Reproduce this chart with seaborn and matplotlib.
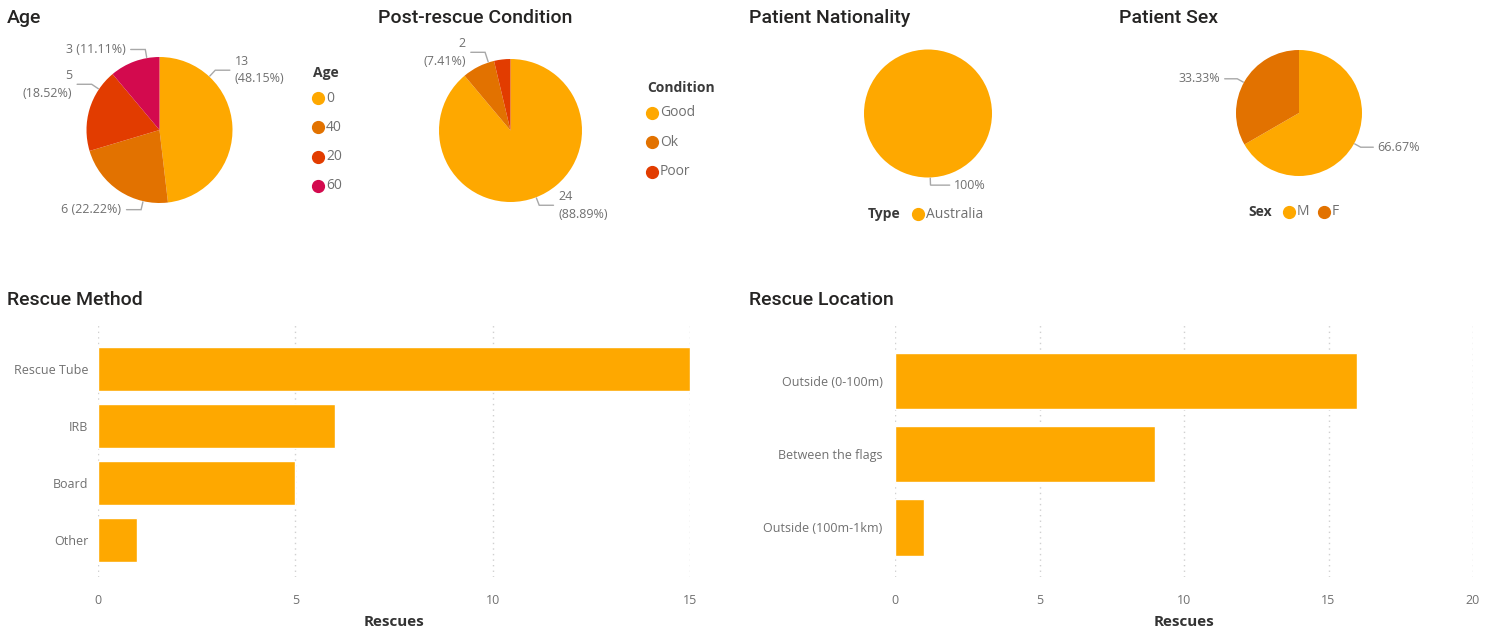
import numpy as np
import pandas as pd
import matplotlib
matplotlib.use("Agg")
import matplotlib.pyplot as plt
import seaborn as sns
from matplotlib.lines import Line2D

# ---------------- data ----------------
age_labels = ["0", "40", "20", "60"]
age_counts = [13, 6, 5, 3]
cond_labels = ["Good", "Ok", "Poor"]
cond_counts = [24, 2, 1]
nat_labels = ["Australia"]
nat_counts = [27]
sex_labels = ["M", "F"]
sex_counts = [18, 9]
method_labels = ["Rescue Tube", "IRB", "Board", "Other"]
method_counts = [15, 6, 5, 1]
loc_labels = ["Outside (0-100m)", "Between the flags", "Outside (100m-1km)"]
loc_counts = [16, 9, 1]

# ---------------- style ----------------
ORANGE = "#FEA800"
DKORANGE = "#E27200"
RED = "#E23C00"
MAGENTA = "#D30A4E"
TXT = "#252423"
GREY = "#707070"
LEADER = "#A8A8A8"

sns.set_theme(style="white")
plt.rcParams["font.family"] = ["Open Sans", "DejaVu Sans"]
TITLE_FONT = ["Roboto", "DejaVu Sans"]

W, H = 1496, 634
fig = plt.figure(figsize=(W / 100, H / 100), dpi=100)
fig.patch.set_facecolor("white")


def fpt(x, y):
    return x / W, 1 - y / H


def ax_px(x0, y0, w, h):
    return fig.add_axes([x0 / W, 1 - (y0 + h) / H, w / W, h / H])


def title(x, y, s):
    fig.text(*fpt(x, y), s, ha="left", va="center", fontsize=14,
             fontweight="medium", color=TXT, family=TITLE_FONT)


def pie(cx, cy, r, counts, colors):
    ax = ax_px(cx - r, cy - r, 2 * r, 2 * r)
    ax.pie(counts, colors=colors, startangle=90, counterclock=False,
           wedgeprops=dict(linewidth=0))
    ax.set_xlim(-1, 1)
    ax.set_ylim(-1, 1)
    ax.set_aspect("equal")
    ax.axis("off")
    return ax


def pie_label(ax, angle, side, text, r1=1.01, r2=1.12, hl=0.2, gap=0.07):
    a = np.deg2rad(angle)
    x0, y0 = r1 * np.cos(a), r1 * np.sin(a)
    x1, y1 = r2 * np.cos(a), r2 * np.sin(a)
    x2 = x1 + side * hl
    ax.plot([x0, x1, x2], [y0, y1, y1], color=LEADER, lw=1, clip_on=False,
            solid_joinstyle="miter")
    ax.text(x2 + side * gap, y1, text, ha="left" if side > 0 else "right",
            va="center", fontsize=9, color=GREY, clip_on=False,
            multialignment="left" if side > 0 else "right", linespacing=1.45)


def vlegend(x, y, title_s, labels, colors, dy=29.3, first=25):
    fig.text(*fpt(x - 5, y), title_s, ha="left", va="center", fontsize=10,
             fontweight="bold", color="#3a3a3a")
    for i, (lab, col) in enumerate(zip(labels, colors)):
        yy = y + first + i * dy
        fig.add_artist(Line2D([x / W], [1 - yy / H], marker="o", ms=8.5,
                              color=col, linestyle="none",
                              transform=fig.transFigure))
        fig.text(*fpt(x + 8, yy), lab, ha="left", va="center", fontsize=10,
                 color=GREY)


def hlegend(x, y, title_s, labels, colors, step=35):
    fig.text(*fpt(x, y), title_s, ha="right", va="center", fontsize=10,
             fontweight="bold", color="#3a3a3a")
    xx = x + 17
    for lab, col in zip(labels, colors):
        fig.add_artist(Line2D([xx / W], [1 - y / H], marker="o", ms=8.5,
                              color=col, linestyle="none",
                              transform=fig.transFigure))
        fig.text(*fpt(xx + 8, y), lab, ha="left", va="center", fontsize=10,
                 color=GREY)
        xx += step


def pct(v, tot):
    return f"{100 * v / tot:.2f}%"


# ---------------- Age ----------------
title(7, 18, "Age")
age_cols = [ORANGE, DKORANGE, RED, MAGENTA]
ax = pie(159.5, 130, 73, age_counts, age_cols)
tot = sum(age_counts)
pie_label(ax, 47, 1, f"{age_counts[0]}\n({pct(age_counts[0], tot)})")
pie_label(ax, 257, -1, f"{age_counts[1]} ({pct(age_counts[1], tot)})")
pie_label(ax, 146, -1, f"{age_counts[2]}\n({pct(age_counts[2], tot)})")
pie_label(ax, 100, -1, f"{age_counts[3]} ({pct(age_counts[3], tot)})")
vlegend(318, 73, "Age", age_labels, age_cols)

# ---------------- Condition ----------------
title(378, 18, "Post-rescue Condition")
cond_cols = [ORANGE, DKORANGE, RED]
ax = pie(510.5, 130.5, 71.5, cond_counts, cond_cols)
tot = sum(cond_counts)
pie_label(ax, -69, 1, f"{cond_counts[0]}\n({pct(cond_counts[0], tot)})")
pie_label(ax, 108, -1, f"{cond_counts[1]}\n({pct(cond_counts[1], tot)})",
          r2=1.15)
vlegend(652, 88, "Condition", cond_labels, cond_cols)

# ---------------- Nationality ----------------
title(749, 18, "Patient Nationality")
ax = pie(928, 113.5, 64, nat_counts, [ORANGE])
tot = sum(nat_counts)
pie_label(ax, -88, 1, f"{100 * nat_counts[0] / tot:.0f}%", hl=0.3)
hlegend(901, 214, "Type", nat_labels, [ORANGE])

# ---------------- Sex ----------------
title(1119, 18, "Patient Sex")
sex_cols = [ORANGE, DKORANGE]
ax = pie(1299, 113, 63, sex_counts, sex_cols)
tot = sum(sex_counts)
pie_label(ax, -29, 1, pct(sex_counts[0], tot))
pie_label(ax, 151, -1, pct(sex_counts[1], tot))
hlegend(1272, 212, "Sex", sex_labels, sex_cols)


# ---------------- bars ----------------
def bar_panel(x0, w, labels, counts, xmax, ylim, ypad):
    ax = ax_px(x0, 325, w, 252)
    sns.barplot(x=counts, y=labels, orient="h", color=ORANGE, saturation=1,
                width=0.77, ax=ax)
    ax.set_xlim(0, xmax)
    ax.set_ylim(*ylim)
    ax.set_xticks(np.arange(0, xmax + 1, 5))
    ax.grid(axis="x", linestyle=(0, (1, 3)), color="#D0D0D0", lw=1)
    ax.grid(axis="y", visible=False)
    ax.set_axisbelow(True)
    for s in ax.spines.values():
        s.set_visible(False)
    ax.tick_params(axis="x", length=0, pad=12, labelsize=9, labelcolor=GREY)
    ax.tick_params(axis="y", length=0, pad=ypad, labelsize=9, labelcolor=GREY)
    ax.set_ylabel("")
    ax.set_xlabel("Rescues", fontsize=11, fontweight="bold", color="#333333",
                  labelpad=6)
    return ax


title(7, 300, "Rescue Method")
bar_panel(98, 592, method_labels, method_counts, 15, (3.65, -0.77), 7)
title(749, 300, "Rescue Location")
bar_panel(895, 578, loc_labels, loc_counts, 20, (2.676, -0.765), 9)

fig.savefig("out.png", dpi=100, facecolor="white")
